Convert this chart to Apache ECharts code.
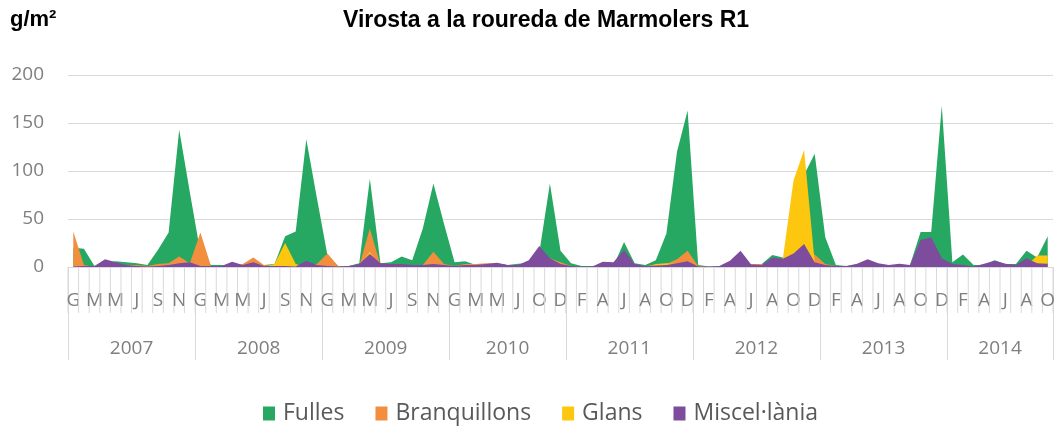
<!DOCTYPE html>
<html>
<head>
<meta charset="utf-8">
<title>Virosta a la roureda de Marmolers R1</title>
<script src="https://cdn.jsdelivr.net/npm/echarts@6/dist/echarts.min.js"></script>
<style>
  html, body { margin: 0; padding: 0; background: #fff; }
  #chart { width: 1057px; height: 426px; }
</style>
</head>
<body>
<div id="chart"></div>
<script>
// Anys i mesos (el 2010 no té mostra d'agost, el 2014 acaba a l'octubre)
const years = ['2007', '2008', '2009', '2010', '2011', '2012', '2013', '2014'];
const monthLabels = [
  'G','F','M','A','M','J','J','A','S','O','N','D',   // 2007
  'G','F','M','A','M','J','J','A','S','O','N','D',   // 2008
  'G','F','M','A','M','J','J','A','S','O','N','D',   // 2009
  'G','F','M','A','M','J','J','S','O','N','D',       // 2010
  'G','F','M','A','M','J','J','A','S','O','N','D',   // 2011
  'G','F','M','A','M','J','J','A','S','O','N','D',   // 2012
  'G','F','M','A','M','J','J','A','S','O','N','D',   // 2013
  'G','F','M','A','M','J','J','A','S','O'            // 2014
];
const monthsPerYear = [12, 12, 12, 11, 12, 12, 12, 10];

// g/m2
const fulles = [
  20, 19, 1, 5, 6, 5, 4, 2, 18, 36, 143, 78,
  15, 2, 2, 2, 2, 1, 2, 3, 32, 37, 133, 72,
  12, 1, 1, 4, 92, 4, 5, 11, 7, 40, 87, 45,
  5, 6, 2, 2, 3, 2, 3.5, 4, 15, 87, 17,
  4, 1, 1, 1, 1, 26, 4, 2, 7, 35, 120, 163,
  2, 0.5, 0.5, 1, 2, 2, 3, 12.5, 10, 10, 96, 118,
  31, 2, 1, 2, 3, 2, 1, 2, 2, 36.5, 36.5, 168,
  5, 13, 2, 2, 7, 3, 3, 17, 10, 32
];
const branquillons = [
  37, 2, 0, 0, 1, 2, 2, 1, 3, 4, 11, 4,
  36, 1, 0, 1, 3, 10, 2, 1, 1, 1, 2, 3,
  14, 1, 0, 1, 40, 2, 1, 1, 1, 2, 16, 3,
  1, 3, 3, 4, 4, 2, 1, 1, 3, 9, 5,
  1, 0, 0, 1, 1, 2, 1, 1, 2, 3, 8, 17,
  1, 0, 0, 0, 1, 3, 3, 2, 3, 5, 8, 13,
  3, 1, 0, 0, 0, 0, 0, 0, 1, 3, 2, 2,
  1, 0, 0, 0, 1, 1, 0, 1, 2, 3
];
const glans = [
  0, 0, 0, 0, 0, 0, 0, 0, 0, 0, 0, 0,
  0, 0, 0, 0, 0, 0, 0, 3, 25, 3, 0, 0,
  0, 0, 0, 1, 16, 0, 0, 0, 0, 0, 0, 0,
  0, 0, 0, 0, 0, 0, 0, 0, 0, 0, 0,
  0, 0, 0, 0, 0, 0, 0, 0, 3, 4, 3, 0,
  0, 0, 0, 0, 0, 2, 1, 1, 9, 90, 122, 5,
  0, 0, 0, 0, 0, 0, 0, 0, 0, 0, 0, 0,
  0, 0, 0, 0, 0, 0, 0, 1, 12, 12
];
const miscelania = [
  0.5, 1, 1, 8, 5, 2, 1, 0.5, 1, 2, 4, 5,
  1, 1, 1, 5.5, 2, 5, 1, 1, 1, 0.5, 6.5, 2,
  1, 0.5, 1, 3, 13.5, 4, 3, 3, 2, 2, 3, 2,
  1, 2, 2, 3, 4.5, 2, 2, 7, 22, 9, 3,
  1, 0.5, 0.5, 5.5, 5, 18, 3, 1, 1.5, 2, 4, 6,
  0.5, 0.5, 1, 6.5, 17, 2.5, 2, 10, 8.5, 14, 24, 5,
  2, 1, 1, 3.5, 8, 4, 2, 3.5, 2, 28, 31, 9,
  3, 2, 0.5, 3.5, 6.5, 3.5, 2, 9, 4, 3.5
];

// Colors
const colorFulles = '#27a862';
const colorBranquillons = '#f18f3f';
const colorGlans = '#fdc70f';
const colorMiscelania = '#7d4c9c';

// Year row positions (in category units, 0 = left edge of the first month)
const nMonths = monthLabels.length;
const yearBounds = [0];
monthsPerYear.forEach(n => yearBounds.push(yearBounds[yearBounds.length - 1] + n));
const yearMids = years.map((y, i) => (yearBounds[i] + yearBounds[i + 1]) / 2);

const labelFont = 'Open Sans';
const labelColor = '#7f7f7f';
const gridLine = '#d9d9d9';
const plotRect = { left: 68, right: 4, top: 75, bottom: 159 };

const chart = echarts.init(document.getElementById('chart'));

function areaSeries(name, data, color) {
  return {
    name: name,
    type: 'line',
    data: data,
    color: color,
    symbol: 'none',
    lineStyle: { width: 0 },
    areaStyle: { color: color, opacity: 1 }
  };
}

// Month row under the plot: a tick on the left edge of every month, a letter every two months
function renderMonthRow(params, api) {
  const i = api.value(0);
  const p = api.coord([i, 0]);
  const w = api.size([1, 0])[0];
  const x0 = p[0] - w / 2;
  const children = [{
    type: 'line',
    shape: { x1: x0, y1: p[1], x2: x0, y2: p[1] + 46 },
    style: { stroke: gridLine, lineWidth: 1 }
  }];
  if (i === nMonths - 1) {
    children.push({
      type: 'line',
      shape: { x1: x0 + w, y1: p[1], x2: x0 + w, y2: p[1] + 46 },
      style: { stroke: gridLine, lineWidth: 1 }
    });
  }
  if (i % 2 === 0) {
    children.push({
      type: 'text',
      x: p[0],
      y: p[1] + 24,
      style: {
        text: monthLabels[i],
        fill: labelColor,
        fontSize: 19,
        fontFamily: labelFont,
        align: 'center',
        verticalAlign: 'top',
        textAlign: 'center',
        textVerticalAlign: 'top'
      }
    });
  }
  return { type: 'group', children: children };
}

const options = {
  animation: false,
  title: [
    {
      text: 'Virosta a la roureda de Marmolers R1',
      left: 338,
      top: 4,
      textStyle: { fontFamily: 'Liberation Sans', fontWeight: 'bold', fontSize: 23, color: '#000' }
    },
    {
      text: 'g/m²',
      left: 5,
      top: 4,
      textStyle: { fontFamily: 'Liberation Sans', fontWeight: 'bold', fontSize: 22, color: '#000' }
    }
  ],
  legend: {
    top: 397,
    left: 258,
    icon: 'rect',
    itemWidth: 12,
    itemHeight: 14,
    itemGap: 31,
    textStyle: { fontFamily: labelFont, fontSize: 23, color: '#595959', padding: [0, 0, 0, 3] },
    data: ['Fulles', 'Branquillons', 'Glans', 'Miscel·lània']
  },
  grid: [
    Object.assign({}, plotRect),
    Object.assign({}, plotRect)
  ],
  xAxis: [
    {
      type: 'category',
      gridIndex: 0,
      data: monthLabels,
      boundaryGap: true,
      axisLine: { lineStyle: { color: gridLine } },
      axisTick: { show: false },
      axisLabel: { show: false }
    },
    {
      // year row, drawn with a value axis on an identical grid
      type: 'value',
      gridIndex: 1,
      min: 0,
      max: nMonths,
      axisLine: { show: false },
      splitLine: { show: false },
      axisTick: { show: true, customValues: yearBounds, length: 93, lineStyle: { color: gridLine } },
      axisLabel: {
        customValues: yearMids,
        margin: 72,
        fontFamily: labelFont,
        fontSize: 19,
        color: labelColor,
        formatter: v => years[yearMids.indexOf(v)]
      }
    }
  ],
  yAxis: [
    {
      type: 'value',
      gridIndex: 0,
      min: 0,
      max: 200,
      interval: 50,
      axisLine: { show: false },
      axisTick: { show: false },
      axisLabel: { margin: 24, fontFamily: labelFont, fontSize: 19, color: labelColor },
      splitLine: { lineStyle: { color: gridLine } }
    },
    { type: 'value', gridIndex: 1, min: 0, max: 200, show: false }
  ],
  series: [
    areaSeries('Fulles', fulles, colorFulles),
    areaSeries('Branquillons', branquillons, colorBranquillons),
    areaSeries('Glans', glans, colorGlans),
    areaSeries('Miscel·lània', miscelania, colorMiscelania),
    {
      name: 'mesos',
      type: 'custom',
      silent: true,
      clip: false,
      data: monthLabels.map((m, i) => [i, 0]),
      encode: { x: 0, y: 1 },
      renderItem: renderMonthRow
    }
  ]
};

chart.setOption(options);
</script>
</body>
</html>
